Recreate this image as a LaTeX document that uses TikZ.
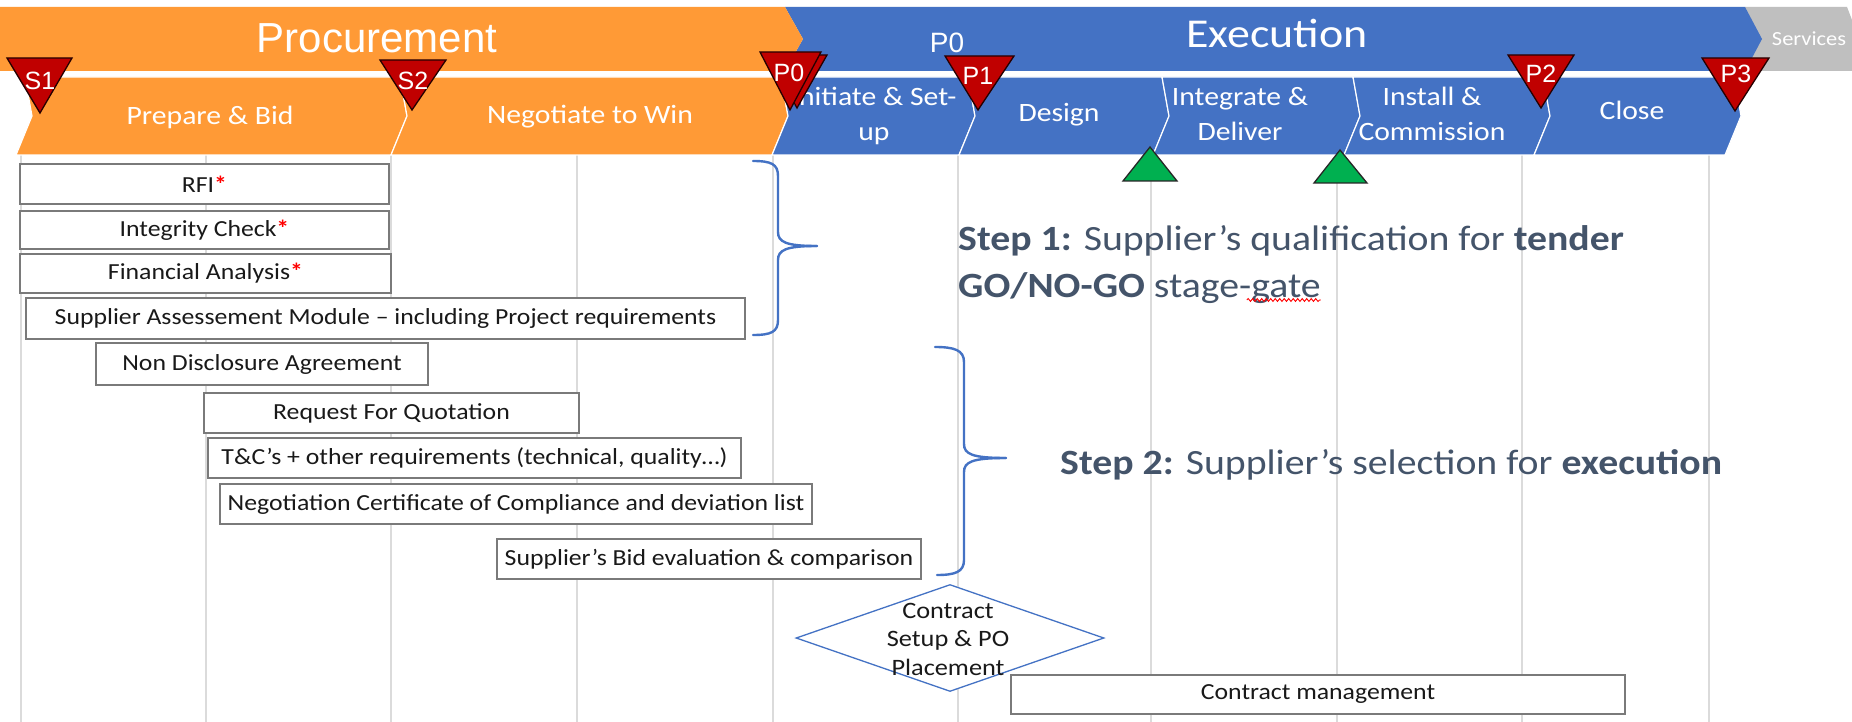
\documentclass[tikz,border=0pt]{standalone}
\usepackage{fontspec}
\setmainfont{Carlito}[FakeStretch=1.12]
\newfontfamily\arialf{Liberation Sans}
\usetikzlibrary{decorations.pathmorphing,shapes.geometric}
\definecolor{orng}{HTML}{FF9A36}
\definecolor{exblue}{HTML}{4472C4}
\definecolor{svgray}{HTML}{BFBFBF}
\definecolor{trired}{HTML}{C00000}
\definecolor{trigreen}{HTML}{00B050}
\definecolor{stepc}{HTML}{44546A}
\newcommand\fsz[2]{\fontsize{#1}{#2}\selectfont}
\newcommand\chevron[3]{%
  \fill[#3, draw=white, line width=1.2] (#1,77) -- (#2,77) -- ({#2+7},116) -- ({#2-9},155) -- ({#1-9},155) -- ({#1+7},116) -- cycle;}
\newcommand\redtriangle[5]{%
  \path[redtri] (#1,#3) -- (#2,#3) -- (#4,#5) -- cycle;}
\newcommand\redast{\textcolor{red}{\textbf{*}}}
\tikzset{
  gridl/.style={draw=black!14, line width=1.2},
  pbox/.style={draw=black!52, line width=1.5, fill=white, inner sep=0, text=black!90, font=\fsz{23}{28}},
  chevtxt/.style={text=white, font=\fsz{26.5}{35}, align=center, inner sep=0},
  redtri/.style={fill=trired, draw=black!85!red, line width=1.3, line join=miter},
  greentri/.style={fill=trigreen, draw=black!85, line width=1.3, line join=miter},
  trilbl/.style={text=white, font=\arialf\fsz{25}{25}, inner sep=0, anchor=base},
  bracel/.style={draw=exblue, line width=2.4, line cap=round},
  steptxt/.style={text=stepc, font=\fsz{35.5}{47}, anchor=base west, inner sep=0},
}
\begin{document}
\begin{tikzpicture}[x=1pt,y=-1pt]
\useasboundingbox[fill=white] (0,0) rectangle (1852,722);

% grid lines
\foreach \gx in {21,206,391,577,773,958,1151,1337,1522,1709}
  \draw[gridl] (\gx,155) -- (\gx,722);

% top banner
\fill[svgray] (1745,7) -- (1847,7) -- (1852,20) -- (1852,71) -- (1745,71) -- cycle;
\fill[exblue] (785,7) -- (1745,7) -- (1762,39) -- (1745,71) -- (785,71) -- (803,39) -- cycle;
\fill[orng] (0,7) -- (785,7) -- (803,39) -- (785,71) -- (0,71) -- cycle;
\node[text=white, font=\arialf\fsz{42}{42}, anchor=base, inner sep=0] (proc) at (377,53) {Procurement};
\node[text=white, font=\fsz{41}{41}, anchor=base, inner sep=0] (exec) at (1277,48) {Execution};
\node[text=white, font=\fsz{20}{20}, anchor=base, inner sep=0] (serv) at (1809,46) {Services};
\node[text=white, font=\arialf\fsz{28}{28}, anchor=base, inner sep=0] (p0top) at (947,53) {P0};

% chevron row
\chevron{25}{400}{orng}
\chevron{400}{781}{orng}
\chevron{781}{968}{exblue}
\chevron{968}{1162}{exblue}
\chevron{1162}{1353}{exblue}
\chevron{1353}{1543}{exblue}
\chevron{1543}{1734}{exblue}
\node[chevtxt] (c1) at (210,117) {Prepare \& Bid};
\node[chevtxt] (c2) at (590,117) {Negotiate to Win};
\node[chevtxt] (c3) at (874,116) {Initiate \& Set-\\up};
\node[chevtxt] (c4) at (1059,115) {Design};
\node[chevtxt] (c5) at (1240,114) {Integrate \&\\Deliver};
\node[chevtxt] (c6) at (1432,114) {Install \&\\Commission};
\node[chevtxt] (c7) at (1632,110) {Close};

% green triangles
\path[greentri] (1150,147) -- (1177,181) -- (1123,181) -- cycle;
\path[greentri] (1340,150) -- (1367,183) -- (1314,183) -- cycle;

% red triangles
\redtriangle{7}{72}{58}{40}{113}
\redtriangle{380}{446}{60}{412}{110}
\redtriangle{767}{827}{55}{797}{108}
\redtriangle{760}{821}{52}{790}{110}
\redtriangle{945}{1014}{56}{978}{110}
\redtriangle{1508}{1574}{55}{1541}{108}
\redtriangle{1702}{1769}{58}{1735}{111}
\node[trilbl] (s1) at (40,90) {S1};
\node[trilbl] (s2) at (413,90) {S2};
\node[trilbl] (p0) at (789,82) {P0};
\node[trilbl] (p1) at (978,85) {P1};
\node[trilbl] (p2) at (1541,83) {P2};
\node[trilbl] (p3) at (1736,83) {P3};

% boxes
\node[pbox, minimum width=369, minimum height=40] (rfi) at (204.5,184) {RFI\redast};
\node[pbox, minimum width=369, minimum height=38] (integ) at (204.5,230) {Integrity Check\redast};
\node[pbox, minimum width=371, minimum height=39] (fin) at (205.5,273.5) {Financial Analysis\redast};
\node[pbox, minimum width=719, minimum height=41] (sam) at (385.5,318.5) {Supplier Assessement Module – including Project requirements};
\node[pbox, minimum width=332, minimum height=42] (nda) at (262,364) {Non Disclosure Agreement};
\node[pbox, minimum width=375, minimum height=40] (rfq) at (391.5,413) {Request For Quotation};
\node[pbox, minimum width=533, minimum height=40] (tc) at (474.5,458) {T\&C’s + other requirements (technical, quality…)};
\node[pbox, minimum width=592, minimum height=40] (neg) at (516,504) {Negotiation Certificate of Compliance and deviation list};
\node[pbox, minimum width=424, minimum height=40] (bid) at (709,559) {Supplier’s Bid evaluation \& comparison};

% diamond
\node[diamond, draw=exblue, line width=1.3, fill=white, minimum width=308, minimum height=107, inner sep=0] (dia) at (950,638) {};
\node[text=black!90, font=\fsz{23.5}{28.5}, align=center, inner sep=0] (diatxt) at (948,639) {Contract\\Setup \& PO\\Placement};
\node[pbox, minimum width=614, minimum height=39] (cm) at (1318,694.5) {Contract management};

% braces
\draw[bracel] (753,161) .. controls (771,161) and (778,164) .. (778,176) -- (778,232)
  .. controls (778,242) and (786,246) .. (817,246);
\draw[bracel] (817,246) .. controls (786,246) and (778,250) .. (778,260) -- (778,320)
  .. controls (778,332) and (771,335) .. (753,335);
\draw[bracel] (935,347) .. controls (954,347) and (964,350) .. (964,362) -- (964,444)
  .. controls (964,454) and (972,458) .. (1006,458);
\draw[bracel] (1006,458) .. controls (972,458) and (964,462) .. (964,472) -- (964,560)
  .. controls (964,572) and (955,575) .. (937,575);

% step texts
\node[steptxt] (st1a) at (958,250) {\textbf{Step 1:} Supplier’s qualification for \textbf{tender}};
\node[steptxt] (st1b) at (958,297) {\textbf{GO/NO-GO} stage-gate};
\draw[red, line width=0.9, decorate, decoration={snake, amplitude=1.4, segment length=4.5}]
  ([xshift=-74,yshift=-3]st1b.base east) -- ([yshift=-3]st1b.base east);
\node[steptxt] (st2) at (1060,474) {\textbf{Step 2:} Supplier’s selection for \textbf{execution}};
\end{tikzpicture}
\end{document}
